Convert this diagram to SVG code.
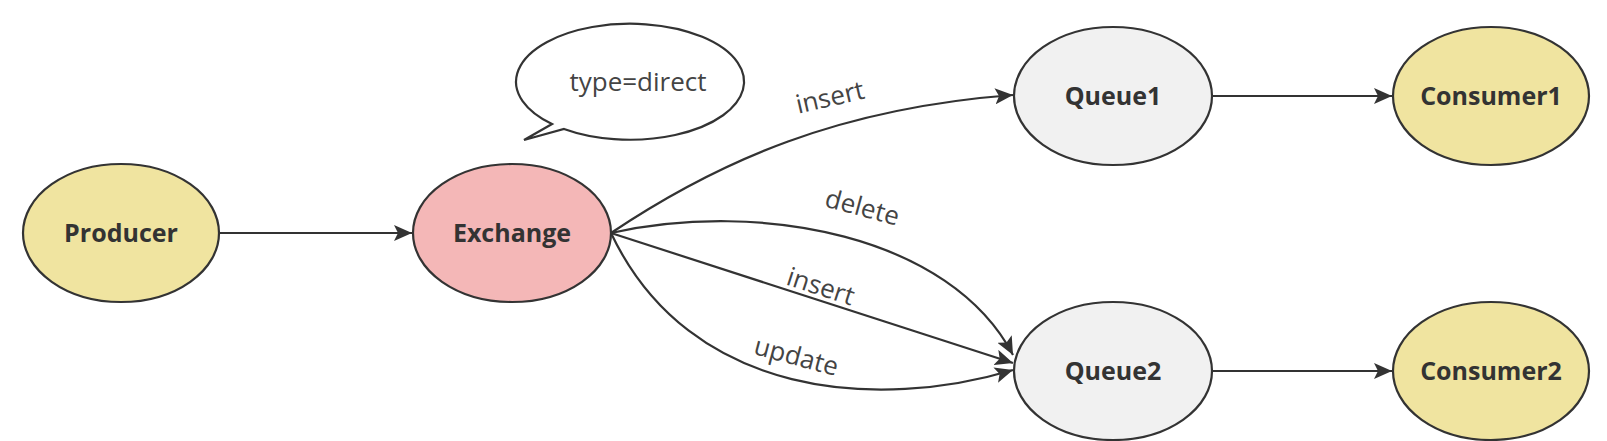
<svg xmlns="http://www.w3.org/2000/svg" width="1607" height="441" viewBox="0 0 1607 441">
<style>
.node{stroke:#333;stroke-width:2.2}
.yellow{fill:#F0E4A0}
.pink{fill:#F4B7B7}
.gray{fill:#F1F1F1}
.nt{font-family:"Open Sans","Noto Sans",sans-serif;font-weight:bold;font-size:25px;fill:#333;text-anchor:middle}
.lt{font-family:"Open Sans","Noto Sans",sans-serif;font-size:26px;fill:#444;text-anchor:middle}
.edge{fill:none;stroke:#333;stroke-width:2.2;marker-end:url(#arrow)}
</style>
<defs>
<marker id="arrow" markerUnits="userSpaceOnUse" markerWidth="20" markerHeight="16" refX="18" refY="8" orient="auto">
<path d="M0,0 L18,8 L0,16 L4,8 z" fill="#333"/>
</marker>
</defs>
<rect width="1607" height="441" fill="#fff"/>
<g id="connectors">
<path class="edge" d="M220,233 L412,233"/>
<path class="edge" d="M611,233 C720,160 840,108 1013,95"/>
<path class="edge" d="M611,233 C760,200 950,235 1013,355"/>
<path class="edge" d="M611,233 L1013,363"/>
<path class="edge" d="M611,233 C690,400 880,410 1013,370"/>
<path class="edge" d="M1212,96 L1392,96"/>
<path class="edge" d="M1212,371 L1392,371"/>
<text class="lt" transform="translate(832,106) rotate(-13)">insert</text>
<text class="lt" transform="translate(860,216) rotate(15)">delete</text>
<text class="lt" transform="translate(818,295) rotate(18)">insert</text>
<text class="lt" transform="translate(794,365) rotate(15)">update</text>
</g>
<g id="bubble">
<path d="M564,129 A114,58 0 1 0 552,124 L524,140 Z" fill="#fff" stroke="#333" stroke-width="2.2" stroke-linejoin="miter"/>
<text class="lt" x="638" y="91">type=direct</text>
</g>
<g id="producer">
<ellipse class="node yellow" cx="121" cy="233" rx="98" ry="69"/>
<text class="nt" x="121" y="242">Producer</text>
</g>
<g id="exchange">
<ellipse class="node pink" cx="512" cy="233" rx="99" ry="69"/>
<text class="nt" x="512" y="242">Exchange</text>
</g>
<g id="queue1">
<ellipse class="node gray" cx="1113" cy="96" rx="99" ry="69"/>
<text class="nt" x="1113" y="105">Queue1</text>
</g>
<g id="queue2">
<ellipse class="node gray" cx="1113" cy="371" rx="99" ry="69"/>
<text class="nt" x="1113" y="380">Queue2</text>
</g>
<g id="consumer1">
<ellipse class="node yellow" cx="1491" cy="96" rx="98" ry="69"/>
<text class="nt" x="1491" y="105">Consumer1</text>
</g>
<g id="consumer2">
<ellipse class="node yellow" cx="1491" cy="371" rx="98" ry="69"/>
<text class="nt" x="1491" y="380">Consumer2</text>
</g>
</svg>
